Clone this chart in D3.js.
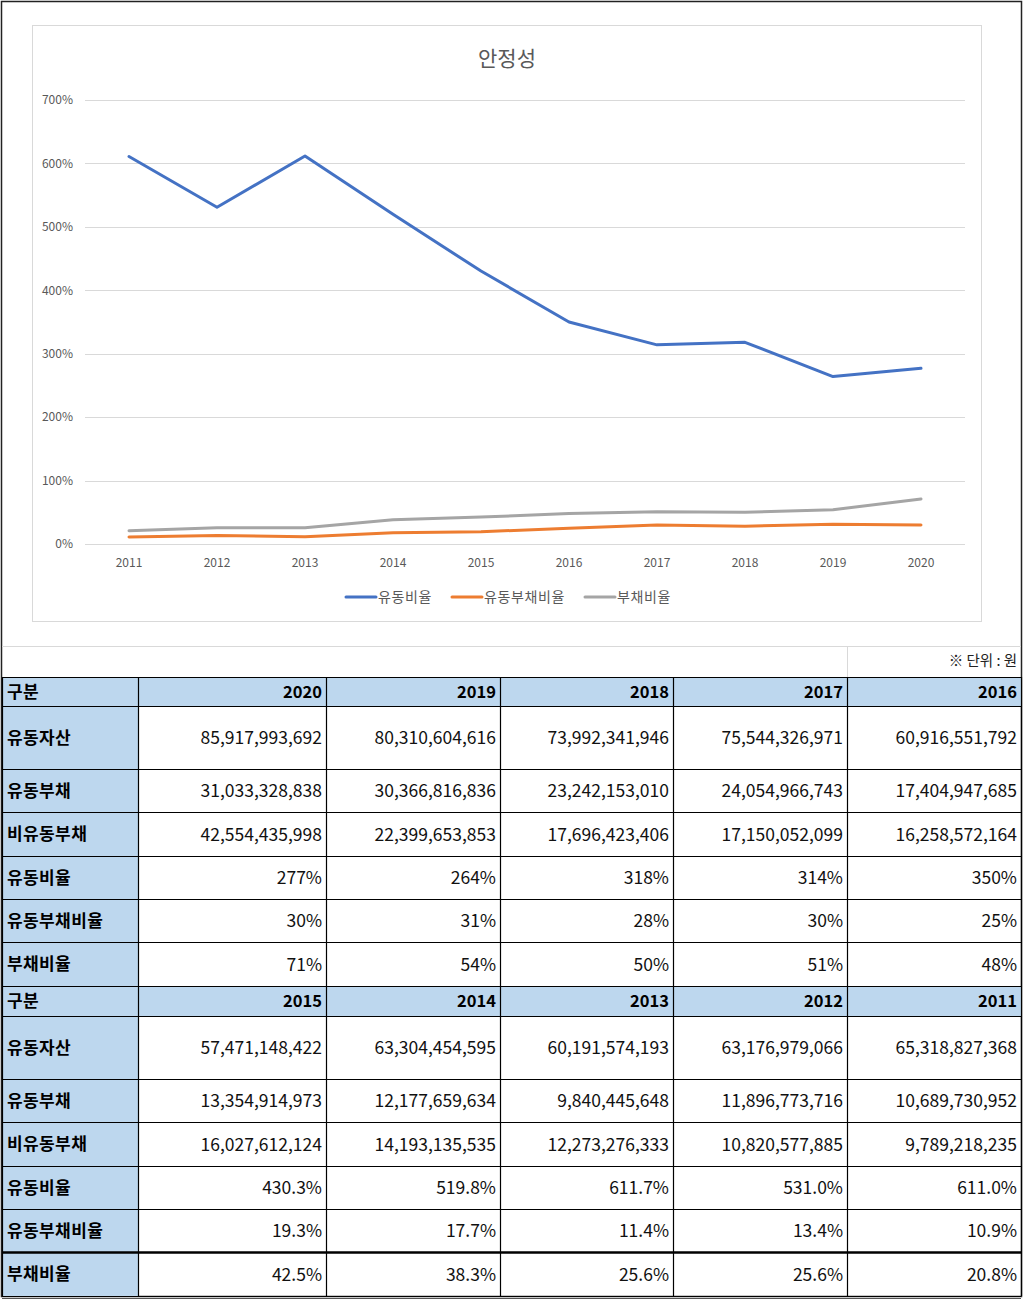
<!DOCTYPE html>
<html><head><meta charset="utf-8">
<script src="https://cdn.jsdelivr.net/npm/d3@7"></script>
<style>
html,body{margin:0;padding:0;background:#fff;}
svg{display:block;font-family:"Noto Sans CJK KR","Noto Sans",sans-serif;}
</style></head>
<body><svg id="c" width="1024" height="1300"></svg>
<script>
// ---- data ----
const chartYears = ["2011","2012","2013","2014","2015","2016","2017","2018","2019","2020"];
const currentRatio = [611.0, 531.0, 611.7, 519.8, 430.3, 350, 314, 318, 264, 277];
const currentLiabRatio = [10.9, 13.4, 11.4, 17.7, 19.3, 25, 30, 28, 31, 30];
const debtRatio = [20.8, 25.6, 25.6, 38.3, 42.5, 48, 51, 50, 54, 71];
const seriesNames = ["유동비율", "유동부채비율", "부채비율"];
const yTicks = [0, 100, 200, 300, 400, 500, 600, 700];
const chartTitle = "안정성";

const tableYearsTop = ["2020","2019","2018","2017","2016"];
const tableYearsBottom = ["2015","2014","2013","2012","2011"];
const rowLabels = ["유동자산","유동부채","비유동부채","유동비율","유동부채비율","부채비율"];
const currentAssets = ["85,917,993,692","80,310,604,616","73,992,341,946","75,544,326,971","60,916,551,792",
                       "57,471,148,422","63,304,454,595","60,191,574,193","63,176,979,066","65,318,827,368"];
const currentLiab = ["31,033,328,838","30,366,816,836","23,242,153,010","24,054,966,743","17,404,947,685",
                     "13,354,914,973","12,177,659,634","9,840,445,648","11,896,773,716","10,689,730,952"];
const nonCurrentLiab = ["42,554,435,998","22,399,653,853","17,696,423,406","17,150,052,099","16,258,572,164",
                        "16,027,612,124","14,193,135,535","12,273,276,333","10,820,577,885","9,789,218,235"];
const currentRatioText = ["277%","264%","318%","314%","350%","430.3%","519.8%","611.7%","531.0%","611.0%"];
const currentLiabRatioText = ["30%","31%","28%","30%","25%","19.3%","17.7%","11.4%","13.4%","10.9%"];
const debtRatioText = ["71%","54%","50%","51%","48%","42.5%","38.3%","25.6%","25.6%","20.8%"];
const unitNote = "※ 단위 : 원";

// ---- drawing ----
const svg = d3.select("#c");
const colors = ["#4472C4", "#ED7D31", "#A5A5A5"];
const textGray = "#595959";

// outer border
svg.append("rect").attr("x",1.5).attr("y",1.5).attr("width",1020).attr("height",1295)
  .attr("fill","none").attr("stroke","#222").attr("stroke-width",1.5);
svg.append("line").attr("x1",2).attr("x2",1021).attr("y1",1298.5).attr("y2",1298.5).attr("stroke","#555").attr("stroke-width",1);

// chart box
svg.append("rect").attr("x",32.5).attr("y",25.5).attr("width",949).attr("height",596)
  .attr("fill","#fff").attr("stroke","#D9D9D9").attr("stroke-width",1);

const x = d3.scaleBand().domain(chartYears).range([85, 965]);
const y = d3.scaleLinear().domain([0, 700]).range([544, 100]);

// gridlines
svg.append("g").selectAll("line").data(yTicks).join("line")
  .attr("x1",85).attr("x2",965).attr("y1",d=>Math.round(y(d))+0.5).attr("y2",d=>Math.round(y(d))+0.5)
  .attr("stroke","#D9D9D9").attr("stroke-width",1);

// y axis
const yAxis = d3.axisLeft(y).tickValues(yTicks).tickFormat(d=>d+"%").tickSize(0).tickPadding(12);
const gy = svg.append("g").attr("transform","translate(85,0)").call(yAxis);
gy.select(".domain").remove();
gy.selectAll("text").attr("fill",textGray).attr("font-size",12).attr("font-family","'Noto Sans CJK KR',sans-serif");

// x axis
const xAxis = d3.axisBottom(x).tickSize(0).tickPadding(14);
const gx = svg.append("g").attr("transform","translate(0,544)").call(xAxis);
gx.select(".domain").remove();
gx.selectAll("text").attr("fill",textGray).attr("font-size",12).attr("font-family","'Noto Sans CJK KR',sans-serif");

// title
svg.append("text").attr("x",507).attr("y",66).attr("text-anchor","middle")
  .attr("font-size",21).attr("fill",textGray).text(chartTitle);

// lines
const allSeries = [currentRatio, currentLiabRatio, debtRatio];
const line = d3.line().x((d,i)=>x(chartYears[i]) + x.bandwidth()/2).y(d=>y(d));
[2,1,0].forEach(k=>{
  svg.append("path").datum(allSeries[k]).attr("d",line)
    .attr("fill","none").attr("stroke",colors[k]).attr("stroke-width",3)
    .attr("stroke-linejoin","round").attr("stroke-linecap","round");
});

// legend
const legendX = [346, 452, 585];
seriesNames.forEach((n,k)=>{
  const g = svg.append("g").attr("transform",`translate(${legendX[k]},597)`);
  g.append("line").attr("x1",0).attr("x2",30).attr("y1",0).attr("y2",0)
    .attr("stroke",colors[k]).attr("stroke-width",3).attr("stroke-linecap","round");
  g.append("text").attr("x",32).attr("y",5).attr("font-size",14).attr("letter-spacing",0.6)
    .attr("fill",textGray).text(n);
});

// spreadsheet faint gridlines
svg.append("line").attr("x1",2).attr("x2",1021).attr("y1",646.5).attr("y2",646.5).attr("stroke","#D9D9D9");
svg.append("line").attr("x1",847.5).attr("x2",847.5).attr("y1",646).attr("y2",677).attr("stroke","#D9D9D9");
svg.append("text").attr("x",1017).attr("y",666).attr("text-anchor","end")
  .attr("font-size",14.5).attr("fill","#222").text(unitNote);

// table
const colEdges = [2, 138, 326, 500, 673, 847, 1021];
const rowEdges = [677, 706, 769, 812, 856, 899, 942, 986, 1016, 1079, 1122, 1166, 1209, 1252, 1296];
const blue = "#BDD7EE";
const valueRows = [currentAssets, currentLiab, nonCurrentLiab, currentRatioText, currentLiabRatioText, debtRatioText];

const tableRows = [];
[tableYearsTop, tableYearsBottom].forEach((years, half)=>{
  tableRows.push({header:true, label:"구분", cells: years});
  rowLabels.forEach((lab, r)=>{
    tableRows.push({header:false, label:lab, cells: valueRows[r].slice(half*5, half*5+5)});
  });
});

const tg = svg.append("g");
tableRows.forEach((row, ri)=>{
  const y0 = rowEdges[ri], y1 = rowEdges[ri+1];
  const cy = (y0+y1)/2;
  if (row.header) {
    tg.append("rect").attr("x",colEdges[0]).attr("y",y0).attr("width",colEdges[6]-colEdges[0]).attr("height",y1-y0).attr("fill",blue);
  } else {
    tg.append("rect").attr("x",colEdges[0]).attr("y",y0).attr("width",colEdges[1]-colEdges[0]).attr("height",y1-y0).attr("fill",blue);
  }
  tg.append("text").attr("x",7).attr("y",cy).attr("dy","0.38em")
    .attr("font-size",17).attr("font-weight","bold").attr("letter-spacing",0.4).attr("fill","#000").text(row.label);
  row.cells.forEach((c, ci)=>{
    tg.append("text").attr("x",colEdges[ci+2]-4).attr("y",cy).attr("dy","0.38em")
      .attr("text-anchor","end")
      .attr("font-size", row.header ? 16.5 : 17.5)
      .attr("font-weight", row.header ? "bold" : "normal")
      .attr("fill", row.header ? "#000" : "#111").text(c);
  });
});
rowEdges.forEach((ry)=>{
  const thick = (ry===1252);
  tg.append("line").attr("x1",colEdges[0]).attr("x2",colEdges[6]).attr("y1",ry+0.5).attr("y2",ry+0.5)
    .attr("stroke","#000").attr("stroke-width", thick ? 2.5 : 1.2);
});
colEdges.forEach(cx=>{
  tg.append("line").attr("x1",cx+0.5).attr("x2",cx+0.5).attr("y1",rowEdges[0]).attr("y2",rowEdges[rowEdges.length-1])
    .attr("stroke","#000").attr("stroke-width",1.2);
});
</script></body></html>
